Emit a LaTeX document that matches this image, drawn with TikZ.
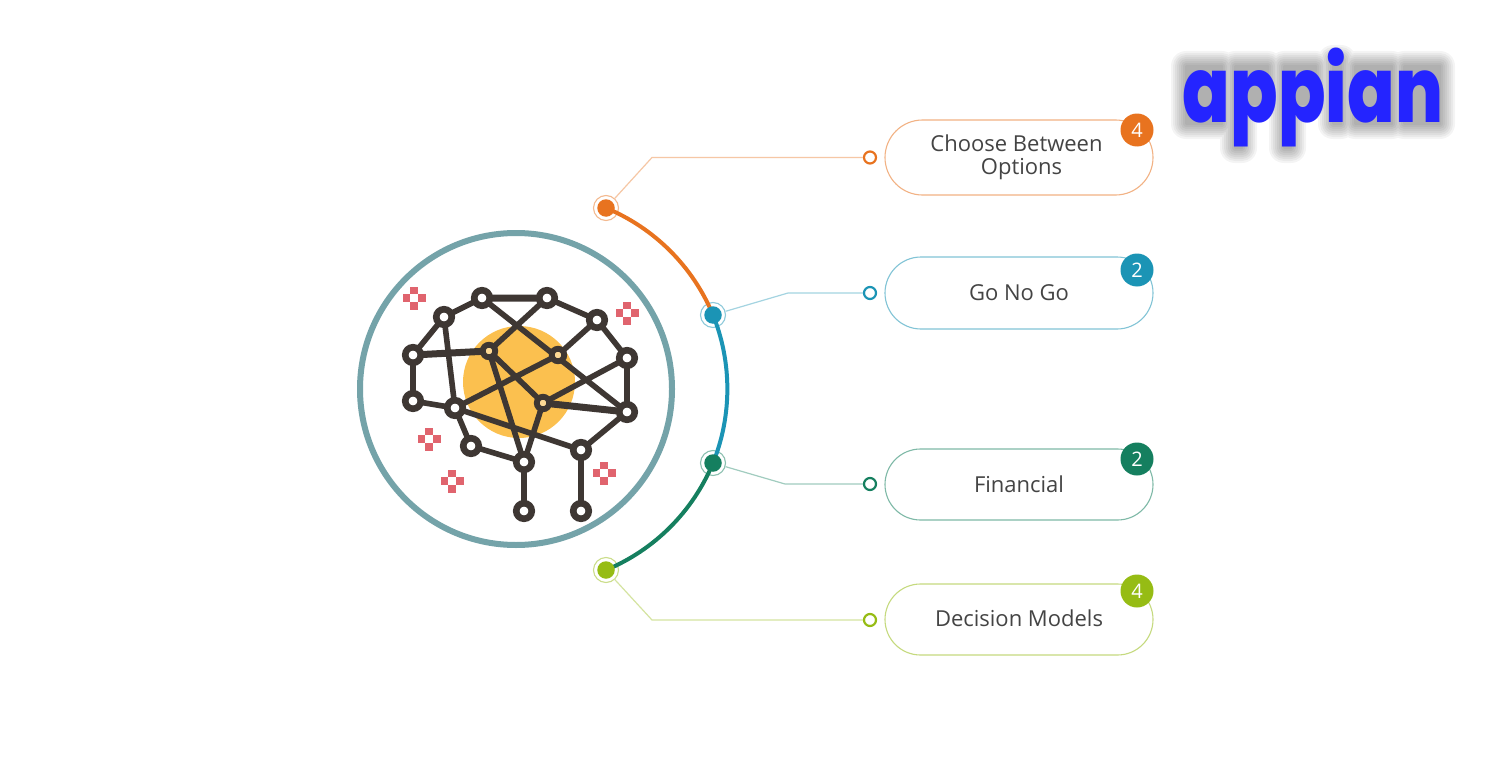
\documentclass[tikz,border=0pt]{standalone}
\usepackage{fontspec}
\usepackage{graphicx}
\setmainfont{Open Sans}
\newfontfamily\logofont{Poppins}[UprightFont=* ExtraBold]
\usetikzlibrary{shapes.misc}
\definecolor{cOrange}{HTML}{E8731F}
\definecolor{cBlue}{HTML}{1B94B5}
\definecolor{cGreen}{HTML}{157F5F}
\definecolor{cLime}{HTML}{96BC14}
\definecolor{cRing}{HTML}{74A3A9}
\definecolor{cSun}{HTML}{FBC04F}
\definecolor{cDark}{HTML}{3E3733}
\definecolor{cPink}{HTML}{E0646E}
\definecolor{cLogo}{HTML}{2424FF}
\definecolor{cText}{HTML}{444444}
\tikzset{
  x=1pt,y=-1pt,
  pill/.style={draw=#1!55!white,line width=1.1pt,fill=white,rounded rectangle,minimum width=268pt,inner sep=0pt,
    text=cText,font=\fontsize{22}{23}\selectfont,align=center},
  badge/.style={circle,fill=#1,minimum size=33pt,inner sep=0pt,text=white,font=\fontsize{20}{20}\selectfont},
  tip/.style={circle,draw=#1,line width=2.2pt,fill=white,minimum size=12pt,inner sep=0pt},
  halo/.style={circle,draw=#1!50!white,line width=1.1pt,fill=white,minimum size=25pt,inner sep=0pt},
  hub/.style={circle,fill=#1,minimum size=17.5pt,inner sep=0pt},
  lead/.style={draw=#1!40!white,line width=1.2pt},
  spine/.style={draw=#1,line width=4pt,looseness=.885},
  wire/.style={draw=cDark,line width=5.6pt},
  wirebold/.style={draw=cDark,line width=7pt},
  synB/.style={circle,draw=cDark,line width=6.6pt,fill=white,minimum size=15.5pt,inner sep=0pt},
  synS/.style={circle,draw=cDark,line width=5.8pt,fill=cSun!60!white,minimum size=12.5pt,inner sep=0pt},
}
\newcommand{\plusmark}[2]{%
  \foreach \dx/\dy in {-7.6/0,7.6/0,0/-7.6,0/7.6}{
    \fill[cPink] (#1+\dx-3.9,#2+\dy-3.9) rectangle (#1+\dx+3.9,#2+\dy+3.9);}}
\newcommand{\shadowlayer}[2]{%
  \fill[black,opacity=#2,rounded corners=#1pt]
    (1186-#1,66-#1) rectangle (1222+#1,124+#1)
    (1235-#1,66-#1) rectangle (1268+#1,104+#1)
    (1235-#1,104-#1) rectangle (1242+#1,148+#1)
    (1284-#1,66-#1) rectangle (1316+#1,104+#1)
    (1284-#1,104-#1) rectangle (1291+#1,148+#1)
    (1333-#1,60-#1) rectangle (1341+#1,124+#1)
    (1355-#1,66-#1) rectangle (1392+#1,124+#1)
    (1404-#1,66-#1) rectangle (1440+#1,124+#1);}
\begin{document}
\begin{tikzpicture}
\useasboundingbox (0,0) rectangle (1500,784);
\fill[white] (0,0) rectangle (1500,784);
% logo
\foreach \e in {1,3,5,7,9,11,13,15}{\shadowlayer{\e}{0.042}}
\node[inner sep=0pt,text=cLogo] (logo) at (1313,97.5)
  {\resizebox*{260pt}{99pt}{\logofont appian}};
% ring and brain
\node[circle,fill=cSun,minimum size=112pt,inner sep=0pt] (sun) at (519,382) {};
\node[circle,draw=cRing,line width=6pt,minimum size=312pt,inner sep=0pt] (ring) at (516,389) {};
\coordinate (ca) at (482,298);
\coordinate (cb) at (547,298);
\coordinate (cc) at (444,317);
\coordinate (cd) at (597,320);
\coordinate (ce) at (413,355);
\coordinate (cf) at (489,351);
\coordinate (cg) at (558,355);
\coordinate (ch) at (627,358);
\coordinate (ci) at (413,401);
\coordinate (cj) at (455,408);
\coordinate (ck) at (543,403);
\coordinate (cl) at (627,412);
\coordinate (cm) at (471,446);
\coordinate (cn) at (524,462);
\coordinate (co) at (581,450);
\coordinate (cp) at (524,511);
\coordinate (cq) at (581,511);
\draw[wire] (ca)--(cc) (cc)--(ce) (ce)--(ci) (ci)--(cj) (cc)--(cj)
  (cb)--(cd) (cd)--(ch) (ch)--(cl) (cl)--(co) (co)--(cq) (cn)--(cp) (cm)--(cn) (cj)--(cm) (cj)--(co)
  (ca)--(cl) (cb)--(cf) (cf)--(ck) (cf)--(cn) (cd)--(cg) (cg)--(cj) (ch)--(ck) (ck)--(cn);
\draw[wirebold] (ca)--(cb) (ce)--(cf) (ck)--(cl);
\foreach \c/\nm in {ca/sa,cb/sb,cc/sc,cd/sd,ce/se,ch/sh,ci/si,cj/sj,cl/sl,cm/sm,cn/sn,co/so,cp/sp,cq/sq}{
  \node[synB] (\nm) at (\c) {};}
\foreach \c/\nm in {cf/sf,cg/sg,ck/sk}{\node[synS] (\nm) at (\c) {};}
\plusmark{414}{298}\plusmark{627}{313}\plusmark{429}{439}\plusmark{452}{481}\plusmark{604}{473}
% hubs
\node[halo=cOrange] (h1) at (606,208) {};
\node[halo=cBlue] (h2) at (713,315) {};
\node[halo=cGreen] (h3) at (713,463) {};
\node[halo=cLime] (h4) at (606,570) {};
% leads
\node[tip=cOrange] (t1) at (870,157.5) {};
\node[tip=cBlue] (t2) at (870,293) {};
\node[tip=cGreen] (t3) at (870,484) {};
\node[tip=cLime] (t4) at (870,620) {};
\coordinate (b1) at (652,157.5);
\coordinate (b2) at (788,293);
\coordinate (b3) at (785,484);
\coordinate (b4) at (652,620);
\draw[lead=cOrange] (h1)--(b1)--(t1);
\draw[lead=cBlue] (h2)--(b2)--(t2);
\draw[lead=cGreen] (h3)--(b3)--(t3);
\draw[lead=cLime] (h4)--(b4)--(t4);
% spine
\draw[spine=cOrange] (h1.center) to[bend left=22.5] (h2.center);
\draw[spine=cBlue] (h2.center) to[bend left=22] (h3.center);
\draw[spine=cGreen] (h3.center) to[bend left=22.5] (h4.center);
\node[hub=cOrange] (d1) at (h1) {};
\node[hub=cBlue] (d2) at (h2) {};
\node[hub=cGreen] (d3) at (h3) {};
\node[hub=cLime] (d4) at (h4) {};
% pills
\node[pill=cOrange,minimum height=75pt] (p1) at (1019,157.5) {Choose Between\hspace*{5pt}\\\hspace*{5pt}Options};
\node[pill=cBlue,minimum height=72pt] (p2) at (1019,293) {\raisebox{1pt}{Go No Go}};
\node[pill=cGreen,minimum height=71pt] (p3) at (1019,484.5) {\raisebox{1pt}{Financial}};
\node[pill=cLime,minimum height=71pt] (p4) at (1019,619.5) {\raisebox{2pt}{Decision Models}};
\node[badge=cOrange] (n1) at (1137,130) {4};
\node[badge=cBlue] (n2) at (1137,270) {2};
\node[badge=cGreen] (n3) at (1137,459) {2};
\node[badge=cLime] (n4) at (1137,591) {4};
\end{tikzpicture}
\end{document}
